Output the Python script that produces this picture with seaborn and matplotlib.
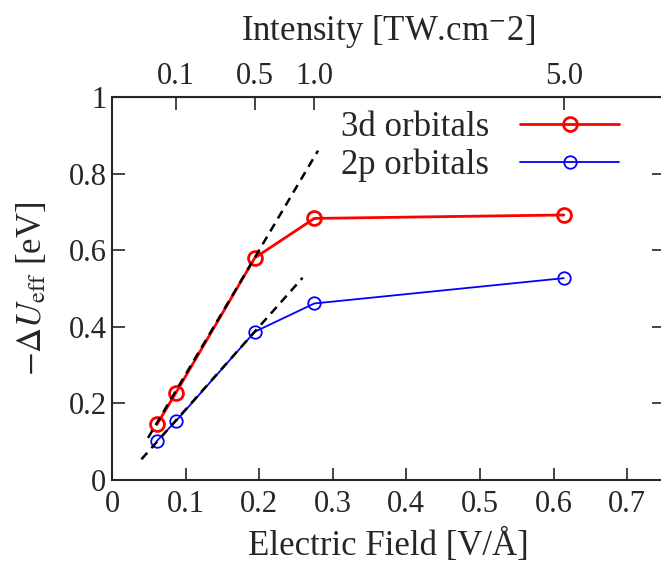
import matplotlib
matplotlib.use("Agg")
import matplotlib.pyplot as plt
import seaborn as sns
from matplotlib.ticker import FuncFormatter

# electric field of each run [V/A] and the energy shift [eV]
field = [0.061, 0.087, 0.194, 0.275, 0.614]
u_3d = [0.145, 0.228, 0.580, 0.683, 0.692]
u_2p = [0.102, 0.154, 0.387, 0.461, 0.527]

# linear fits at low field (end points)
fit_3d_x = [0.049, 0.280]
fit_3d_y = [0.110, 0.860]
fit_2p_x = [0.040, 0.259]
fit_2p_y = [0.054, 0.528]

# top axis: laser intensity [TW/cm2] placed at the matching field
intensity_ticks = [0.087, 0.194, 0.275, 0.614]
intensity_labels = ["0.1", "0.5", "1.0", "5.0"]

sns.set_style("ticks")
plt.rcParams["font.family"] = ["Liberation Serif", "DejaVu Serif"]
plt.rcParams["mathtext.fontset"] = "stix"

fig = plt.figure(figsize=(6.61, 5.69), dpi=100)
ax = fig.add_axes([0.1694, 0.1564, 0.835, 0.6731])

sns.lineplot(x=field, y=u_3d, ax=ax, color="red", lw=2.0, marker="o", ms=10,
             mfc="none", mec="red", mew=2.0, label="3d orbitals")
sns.lineplot(x=field, y=u_2p, ax=ax, color="blue", lw=1.3, marker="o", ms=9,
             mfc="none", mec="blue", mew=1.3, label="2p orbitals")
sns.lineplot(x=fit_3d_x, y=fit_3d_y, ax=ax, color="black", lw=1.8, ls=(0, (3.5, 2.5)))
sns.lineplot(x=fit_2p_x, y=fit_2p_y, ax=ax, color="black", lw=1.8, ls=(0, (3.5, 2.5)))

ax.set_xlim(0, 0.75)
ax.set_ylim(0, 1)
ax.set_xticks([0, 0.1, 0.2, 0.3, 0.4, 0.5, 0.6, 0.7])
ax.set_yticks([0, 0.2, 0.4, 0.6, 0.8, 1.0])
fmt = FuncFormatter(lambda v, p: f"{v:g}")
ax.xaxis.set_major_formatter(fmt)
ax.yaxis.set_major_formatter(fmt)
ax.tick_params(direction="in", length=9, width=1.2, labelsize=22, right=True, top=False, pad=4)
ax.tick_params(axis="x", pad=7)
for s in ax.spines.values():
    s.set_linewidth(1.5)

ax.set_xlabel("Electric Field [V/Å]", fontsize=25, labelpad=7)
ax.set_ylabel(r"$-\Delta U_{\rm eff}$ [eV]", fontsize=25, labelpad=14)

top = ax.secondary_xaxis("top")
top.set_xticks(intensity_ticks)
top.set_xticklabels(intensity_labels)
top.tick_params(direction="in", length=9, width=1.2, labelsize=22, pad=4)
top.set_xlabel(r"Intensity [TW.cm$^{-}$2]", fontsize=25, labelpad=16)

ax.legend(loc="upper right", bbox_to_anchor=(0.969, 1.035), frameon=False,
          markerfirst=False, handlelength=2.85, fontsize=25, labelspacing=0.12,
          handletextpad=0.9, borderpad=0.3)

fig.savefig("out.png", dpi=100)
